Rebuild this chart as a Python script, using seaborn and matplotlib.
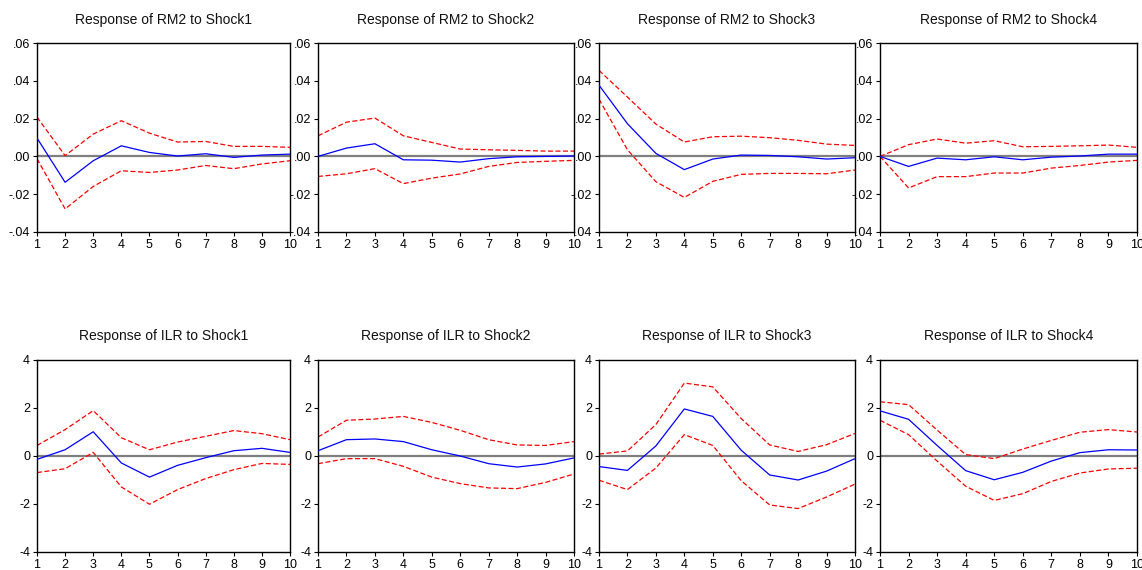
import numpy as np
import pandas as pd
import matplotlib
matplotlib.use("Agg")
import matplotlib.pyplot as plt
from matplotlib.ticker import FuncFormatter
import seaborn as sns

periods = list(range(1, 11))
shocks = ["Shock1", "Shock2", "Shock3", "Shock4"]

# Response of RM2 (point estimate, upper band, lower band)
rm2_resp = [
    [0.0097, -0.0137, -0.0023, 0.0056, 0.0021, 0.0002, 0.0014, -0.0005, 0.0007, 0.0012],
    [0.0000, 0.0044, 0.0067, -0.0018, -0.0020, -0.0030, -0.0012, -0.0002, 0.0000, 0.0002],
    [0.0377, 0.0173, 0.0016, -0.0070, -0.0014, 0.0007, 0.0005, -0.0002, -0.0014, -0.0007],
    [0.0000, -0.0053, -0.0009, -0.0018, -0.0002, -0.0018, -0.0004, 0.0002, 0.0012, 0.0012],
]
rm2_upper = [
    [0.0208, 0.0004, 0.0118, 0.0189, 0.0123, 0.0076, 0.0079, 0.0053, 0.0053, 0.0048],
    [0.0109, 0.0181, 0.0203, 0.0109, 0.0074, 0.0039, 0.0035, 0.0032, 0.0028, 0.0028],
    [0.0455, 0.0314, 0.0171, 0.0076, 0.0104, 0.0107, 0.0099, 0.0085, 0.0065, 0.0058],
    [0.0000, 0.0062, 0.0092, 0.0070, 0.0083, 0.0051, 0.0053, 0.0056, 0.0060, 0.0048],
]
rm2_lower = [
    [-0.0012, -0.0278, -0.0159, -0.0076, -0.0085, -0.0072, -0.0048, -0.0065, -0.0040, -0.0023],
    [-0.0106, -0.0092, -0.0065, -0.0144, -0.0115, -0.0093, -0.0053, -0.0032, -0.0026, -0.0021],
    [0.0303, 0.0035, -0.0134, -0.0217, -0.0132, -0.0095, -0.0090, -0.0090, -0.0092, -0.0072],
    [0.0000, -0.0167, -0.0107, -0.0107, -0.0088, -0.0088, -0.0062, -0.0048, -0.0030, -0.0021],
]

# Response of ILR (point estimate, upper band, lower band)
ilr_resp = [
    [-0.14, 0.26, 1.01, -0.29, -0.88, -0.39, -0.07, 0.22, 0.32, 0.15],
    [0.22, 0.68, 0.71, 0.60, 0.26, 0.00, -0.32, -0.46, -0.33, -0.08],
    [-0.44, -0.60, 0.42, 1.96, 1.65, 0.24, -0.79, -1.00, -0.63, -0.11],
    [1.88, 1.53, 0.44, -0.61, -0.99, -0.68, -0.21, 0.14, 0.26, 0.25],
]
ilr_upper = [
    [0.44, 1.10, 1.89, 0.76, 0.26, 0.58, 0.82, 1.06, 0.93, 0.68],
    [0.79, 1.49, 1.54, 1.65, 1.40, 1.07, 0.68, 0.46, 0.44, 0.60],
    [0.08, 0.21, 1.31, 3.04, 2.88, 1.56, 0.46, 0.19, 0.47, 0.94],
    [2.26, 2.14, 1.08, 0.06, -0.11, 0.29, 0.65, 0.99, 1.10, 1.00],
]
ilr_lower = [
    [-0.69, -0.53, 0.15, -1.29, -2.01, -1.40, -0.94, -0.57, -0.31, -0.35],
    [-0.32, -0.11, -0.11, -0.43, -0.88, -1.15, -1.33, -1.36, -1.10, -0.75],
    [-1.01, -1.40, -0.50, 0.89, 0.44, -1.03, -2.04, -2.19, -1.71, -1.17],
    [1.49, 0.89, -0.21, -1.26, -1.85, -1.57, -1.06, -0.71, -0.54, -0.51],
]

rm2_yticks = [-0.04, -0.02, 0.00, 0.02, 0.04, 0.06]
ilr_yticks = [-4, -2, 0, 2, 4]

sns.set_style("ticks")
plt.rcParams["font.family"] = ["Liberation Sans", "DejaVu Sans"]
plt.rcParams["axes.unicode_minus"] = False

fig = plt.figure(figsize=(11.42, 5.70), dpi=100)
W, H = 1142, 570
col_px = [(37, 290), (318, 574), (599, 855), (880, 1137)]
row_px = [(43, 232), (360, 552)]


def dot_fmt(v, _pos):
    s = f"{v:.2f}"
    if s.startswith("-0"):
        return "-" + s[2:]
    if s.startswith("0"):
        return s[1:]
    return s


def int_fmt(v, _pos):
    return f"{v:.0f}"


def draw_panel(ax, resp, upper, lower, title, yticks, ylim, fmt, pad):
    df = pd.DataFrame({"period": periods, "resp": resp, "upper": upper, "lower": lower})
    ax.axhline(0, color="#7f7f7f", lw=1.6, zorder=1)
    sns.lineplot(data=df, x="period", y="upper", ax=ax, color="#ff0000",
                 lw=0.9, linestyle=(0, (4, 2)), zorder=2)
    sns.lineplot(data=df, x="period", y="lower", ax=ax, color="#ff0000",
                 lw=0.9, linestyle=(0, (4, 2)), zorder=2)
    sns.lineplot(data=df, x="period", y="resp", ax=ax, color="#0000ff",
                 lw=0.9, zorder=3)
    ax.set_xlim(1, 10)
    ax.set_ylim(*ylim)
    ax.set_xticks(periods)
    ax.set_yticks(yticks)
    ax.yaxis.set_major_formatter(FuncFormatter(fmt))
    ax.set_xlabel("")
    ax.set_ylabel("")
    ax.set_title(title, fontsize=10, pad=pad, color="#111111")
    for sp in ax.spines.values():
        sp.set_visible(True)
        sp.set_linewidth(1.0)
        sp.set_color("black")
    ax.tick_params(axis="both", direction="out", length=3, width=0.8,
                   labelsize=9, pad=2, colors="black")


for r, (var, resp_all, up_all, lo_all, yticks, ylim, fmt, pad) in enumerate([
    ("RM2", rm2_resp, rm2_upper, rm2_lower, rm2_yticks, (-0.04, 0.06), dot_fmt, 13.5),
    ("ILR", ilr_resp, ilr_upper, ilr_lower, ilr_yticks, (-4, 4), int_fmt, 14.5),
]):
    top, bot = row_px[r]
    for c, shock in enumerate(shocks):
        left, right = col_px[c]
        ax = fig.add_axes([left / W, 1 - bot / H, (right - left) / W, (bot - top) / H])
        draw_panel(ax, resp_all[c], up_all[c], lo_all[c],
                   f"Response of {var} to {shock}", yticks, ylim, fmt, pad)

fig.savefig("out.png", dpi=100)
